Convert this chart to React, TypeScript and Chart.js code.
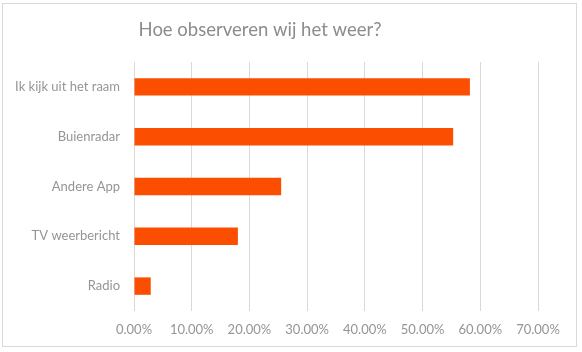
import React, { useEffect, useRef } from "react";
import { Chart, registerables } from "chart.js";

Chart.register(...registerables);

const categories = ["Ik kijk uit het raam", "Buienradar", "Andere App", "TV weerbericht", "Radio"];
const values = [58.2, 55.3, 25.5, 18.0, 2.9];
const xTicks = [0, 10, 20, 30, 40, 50, 60, 70];
const title = "Hoe observeren wij het weer?";

const titlePlugin = {
  id: "customTitle",
  afterDraw(chart: any) {
    const c = chart.ctx;
    c.save();
    c.font = "18.5px Lato";
    c.fillStyle = "#8c8c8c";
    c.textAlign = "center";
    c.textBaseline = "middle";
    c.fillText(title, 260, 30);
    c.restore();
  },
};

export default function App() {
  const ref = useRef<HTMLCanvasElement | null>(null);
  useEffect(() => {
    document.body.style.margin = "0";
    const ctx = ref.current!;
    const chart = new Chart(ctx, {
      type: "bar",
      data: {
        labels: categories,
        datasets: [
          {
            data: values,
            backgroundColor: "#FC4E00",
            borderWidth: 0,
            barPercentage: 0.35,
            categoryPercentage: 1,
          },
        ],
      },
      plugins: [titlePlugin],
      options: {
        indexAxis: "y",
        animation: false,
        responsive: false,
        layout: { padding: { left: 10, right: 44, top: 62, bottom: 11 } },
        plugins: {
          legend: { display: false },
          tooltip: { enabled: false },
          title: { display: false },
        },
        scales: {
          x: {
            min: 0,
            max: 70,
            afterBuildTicks: (s: any) => {
              s.ticks = xTicks.map((v) => ({ value: v }));
            },
            afterFit: (s: any) => {
              s.height = 30;
            },
            grid: { color: "#d9d9d9", drawTicks: false },
            border: { display: false },
            ticks: {
              padding: 11,
              color: "#959595",
              font: { family: "Lato", size: 13 },
              callback: (v: any) => Number(v).toFixed(2) + "%",
            },
          },
          y: {
            afterFit: (s: any) => {
              s.width = 124;
            },
            grid: { display: false, drawTicks: false },
            border: { display: false },
            ticks: {
              padding: 14,
              color: "#959595",
              font: { family: "Lato", size: 13 },
            },
          },
        },
      },
    });
    return () => chart.destroy();
  }, []);
  return (
    <div style={{ position: "relative", width: 582, height: 352, background: "#fff" }}>
      <div
        style={{
          position: "absolute",
          left: 2,
          top: 3,
          width: 575,
          height: 344,
          border: "1px solid #d9d9d9",
          boxSizing: "border-box",
        }}
      />
      <canvas ref={ref} width={582} height={352} style={{ position: "absolute", left: 0, top: 0 }} />
    </div>
  );
}
